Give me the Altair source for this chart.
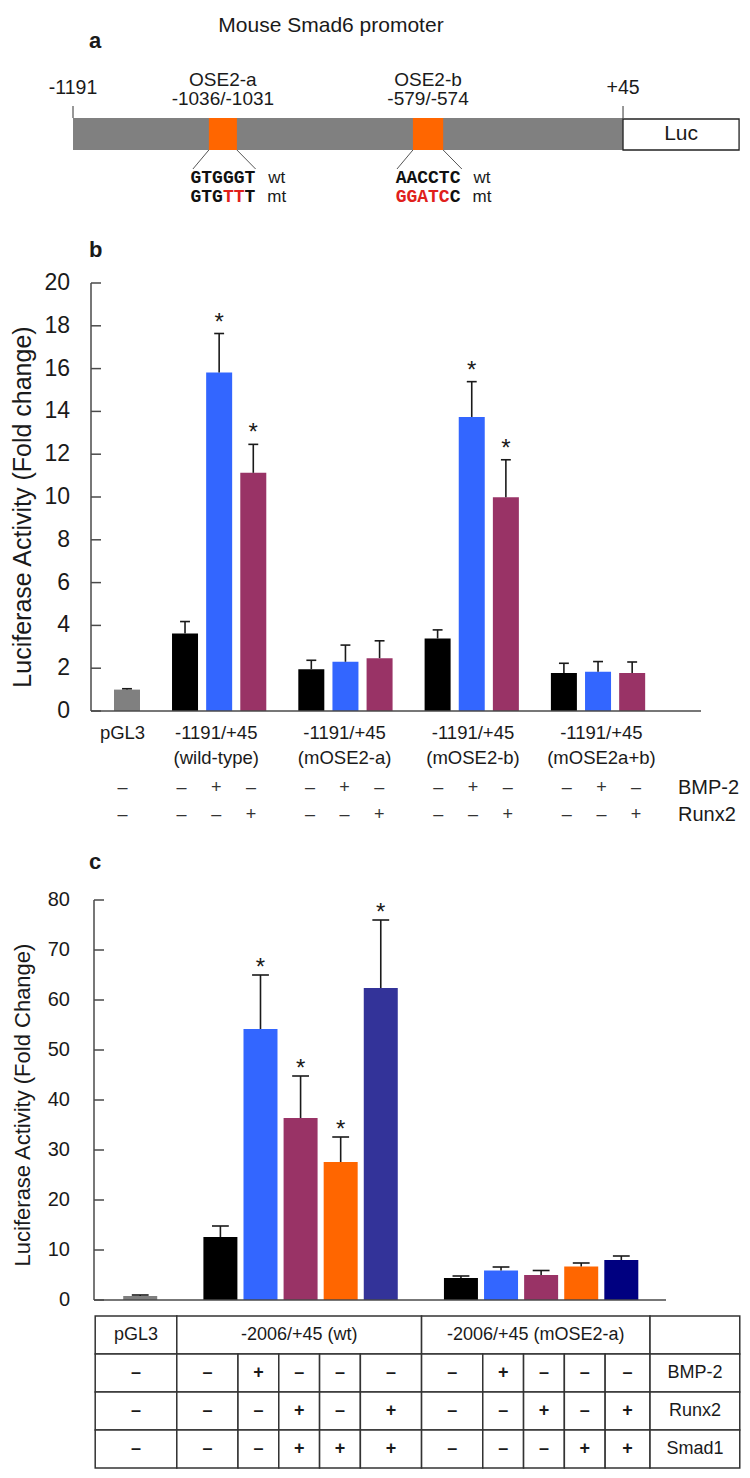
import altair as alt
import pandas as pd

FONT = "Liberation Sans"
MONO = "Liberation Mono"
INK = "#1a1a1a"
AXIS_COL = "#4a4a4a"
MUT_RED = "#e0201b"
OSE_ORANGE = "#ff6600"
PROM_GREY = "#808080"

# ======================= data =======================
# panel a : promoter schematic (drawn positions, not to scale: 0 = -1191, 100 = +45)
prom_end_labels = ["-1191", "+45"]
prom_end_at = [0.0, 100.0]
luc_span = [100.0, 121.1]
ose_names = ["OSE2-a", "OSE2-b"]
ose_coords = ["-1036/-1031", "-579/-574"]
ose_from = [24.7, 61.8]
ose_to = [29.8, 67.3]
ose_wt = ["GTGGGT", "AACCTC"]
ose_mt = ["GTGTTT", "GGATCC"]

# panel b
b_constructs = ["pGL3", "-1191/+45", "-1191/+45", "-1191/+45", "-1191/+45"]
b_variants = ["", "(wild-type)", "(mOSE2-a)", "(mOSE2-b)", "(mOSE2a+b)"]
b_bar_construct = [0, 1, 1, 1, 2, 2, 2, 3, 3, 3, 4, 4, 4]
b_bar_treatment = ["vector", "none", "BMP-2", "Runx2", "none", "BMP-2", "Runx2",
                   "none", "BMP-2", "Runx2", "none", "BMP-2", "Runx2"]
b_mean = [1.0, 3.62, 15.82, 11.13, 1.95, 2.30, 2.47, 3.39, 13.74, 9.99, 1.77, 1.83, 1.77]
b_upper = [1.04, 4.18, 17.64, 12.46, 2.37, 3.08, 3.28, 3.79, 15.39, 11.74, 2.23, 2.31, 2.29]
b_star = [False, False, True, True, False, False, False, False, True, True, False, False, False]
b_ticks = [0, 2, 4, 6, 8, 10, 12, 14, 16, 18, 20]
b_factors = ["BMP-2", "Runx2"]
b_ytitle = "Luciferase Activity (Fold change)"

# panel c
c_constructs = ["pGL3", "-2006/+45 (wt)", "-2006/+45 (mOSE2-a)"]
c_bar_construct = [0, 1, 1, 1, 1, 1, 2, 2, 2, 2, 2]
c_bmp = ["–", "–", "+", "–", "–", "–", "–", "+", "–", "–", "–"]
c_runx = ["–", "–", "–", "+", "–", "+", "–", "–", "+", "–", "+"]
c_smad = ["–", "–", "–", "+", "+", "+", "–", "–", "–", "+", "+"]
c_mean = [0.8, 12.6, 54.2, 36.4, 27.6, 62.4, 4.4, 5.9, 5.0, 6.7, 8.0]
c_upper = [1.0, 14.8, 65.0, 44.8, 32.6, 76.0, 4.8, 6.6, 5.9, 7.4, 8.8]
c_star = [False, False, True, True, True, True, False, False, False, False, False]
c_ticks = [0, 10, 20, 30, 40, 50, 60, 70, 80]
c_factors = ["BMP-2", "Runx2", "Smad1"]
c_ytitle = "Luciferase Activity (Fold Change)"

# ======================= styles / layout =======================
B_COLOURS = {"vector": "#808080", "none": "#000000", "BMP-2": "#3366ff", "Runx2": "#993366"}
C_COLOURS = ["#7f7f7f", "#000000", "#3366ff", "#993366", "#ff6600", "#333399",
             "#000000", "#3366ff", "#993366", "#ff6600", "#000080"]

A_W, A_H, A_X = 650, 273, [3.27, 121.45]
B_W, B_H, B_X = 610, 428, [-0.908, 16.67]
B_FIRST, B_STEP, B_CAP = 1.7, 3.7, 0.145
L_H = 189
C_W, C_H, C_X = 575, 400, [-1.103, 12.99]
C_FIRST, C_STEP, C_CAP = 2.0, 6.0, 0.21
T_W, T_H, T_X = 650, 168, [-1.103, 14.83]
T_LAST_PAD, T_LABEL_W = 0.6, 2.2
CHAR_U = 1.964   # one monospace character in schematic units
FAN_L, FAN_R = 2.9, 3.4


def lin(domain):
    return alt.Scale(domain=domain, nice=False, zero=False)


def positions(constructs, first, step):
    out, seen = [], {}
    for g in constructs:
        k = seen.get(g, 0)
        seen[g] = k + 1
        out.append(0.0 if g == 0 else first + (g - 1) * step + k)
    return out


ONE = pd.DataFrame({"k": [0]})


def frame_axes(width, height, yscale, ticks, title, label_size, title_size, title_y, x0=0):
    """Hand-drawn axes: domain lines, inward ticks, tick labels and the rotated title."""
    tdf = pd.DataFrame({"v": ticks})
    return [
        alt.Chart(ONE).mark_rule(color=AXIS_COL, strokeWidth=1.5).encode(
            x=alt.value(x0), y=alt.value(0), y2=alt.value(height)),
        alt.Chart(ONE).mark_rule(color=AXIS_COL, strokeWidth=1.5).encode(
            x=alt.value(x0), x2=alt.value(width), y=alt.value(height)),
        alt.Chart(tdf).mark_rule(color=AXIS_COL, strokeWidth=1.5).encode(
            y=alt.Y("v:Q", scale=yscale, axis=None), x=alt.value(x0), x2=alt.value(x0 + 10)),
        alt.Chart(tdf).mark_text(align="right", baseline="middle", fontSize=label_size,
                                 color=INK).encode(
            y=alt.Y("v:Q", scale=yscale, axis=None), x=alt.value(-21), text="v:Q"),
        alt.Chart(pd.DataFrame({"t": [title]})).mark_text(
            angle=270, align="center", baseline="middle", fontSize=title_size,
            color=INK).encode(x=alt.value(-68), y=alt.value(title_y), text="t:N"),
    ]


# ======================= panel a =======================
AXS = lin(A_X)


def ax(f):
    return alt.X(f, scale=AXS, axis=None)


prom_df = pd.DataFrame({"s": [prom_end_at[0]], "e": [prom_end_at[1]]})
luc_df = pd.DataFrame({"s": [luc_span[0]], "e": [luc_span[1]], "t": ["Luc"]})
luc_df["m"] = (luc_df["s"] + luc_df["e"]) / 2
ends_df = pd.DataFrame({"at": prom_end_at, "label": prom_end_labels})
ose_df = pd.DataFrame({"l": ose_from, "r": ose_to, "name": ose_names, "coord": ose_coords})
ose_df["c"] = (ose_df["l"] + ose_df["r"]) / 2
fan_df = pd.DataFrame({
    "x0": ose_from + ose_to,
    "x1": [v - FAN_L for v in ose_from] + [v + FAN_R for v in ose_to],
})
chars = []
tags = []
for k in range(len(ose_names)):
    c = (ose_from[k] + ose_to[k]) / 2
    for row, seq in (("wt", ose_wt[k]), ("mt", ose_mt[k])):
        for i, ch in enumerate(seq):
            chars.append({"row": row, "ch": ch, "x": c + (i - 2.5) * CHAR_U,
                          "mut": ch != ose_wt[k][i]})
        tags.append({"row": row, "x": c + 9.8, "t": row})
chars_df = pd.DataFrame(chars)
tags_df = pd.DataFrame(tags)

a_layers = [
    alt.Chart(prom_df).mark_rect(color=PROM_GREY).encode(
        x=ax("s:Q"), x2="e:Q", y=alt.value(108), y2=alt.value(140)),
    alt.Chart(luc_df).mark_rect(fill="white", stroke="#222222", strokeWidth=1.3).encode(
        x=ax("s:Q"), x2="e:Q", y=alt.value(109), y2=alt.value(140)),
    alt.Chart(luc_df).mark_text(fontSize=21, color=INK).encode(
        x=ax("m:Q"), y=alt.value(124), text="t:N"),
    alt.Chart(ends_df).mark_rule(color="#333333", strokeWidth=1).encode(
        x=ax("at:Q"), y=alt.value(96), y2=alt.value(108)),
    alt.Chart(ends_df).mark_text(fontSize=19.5, color=INK).encode(
        x=ax("at:Q"), y=alt.value(78), text="label:N"),
    alt.Chart(ose_df).mark_rect(color=OSE_ORANGE).encode(
        x=ax("l:Q"), x2="r:Q", y=alt.value(108), y2=alt.value(140)),
    alt.Chart(ose_df).mark_text(fontSize=19, color=INK).encode(
        x=ax("c:Q"), y=alt.value(70), text="name:N"),
    alt.Chart(ose_df).mark_text(fontSize=19, color=INK).encode(
        x=ax("c:Q"), y=alt.value(89), text="coord:N"),
    alt.Chart(fan_df).mark_rule(color="#555555", strokeWidth=1).encode(
        x=ax("x0:Q"), x2="x1:Q", y=alt.value(140), y2=alt.value(159)),
]
for row, yv in (("wt", 168), ("mt", 187)):
    a_layers.append(
        alt.Chart(chars_df).transform_filter(f"datum.row == '{row}'").mark_text(
            font=MONO, fontWeight="bold", fontSize=18).encode(
            x=ax("x:Q"), y=alt.value(yv), text="ch:N",
            color=alt.condition("datum.mut", alt.value(MUT_RED), alt.value("#111111"))))
    a_layers.append(
        alt.Chart(tags_df).transform_filter(f"datum.row == '{row}'").mark_text(
            fontSize=17, color=INK).encode(x=ax("x:Q"), y=alt.value(yv), text="t:N"))

a_layers.append(
    alt.Chart(pd.DataFrame({"t": ["Mouse Smad6 promoter"]})).mark_text(
        fontSize=21, color=INK).encode(x=alt.value(240), y=alt.value(16), text="t:N"))
for letter, yv in (("a", 38), ("b", 247)):
    a_layers.append(
        alt.Chart(pd.DataFrame({"t": [letter]})).mark_text(
            fontSize=22, fontWeight="bold", align="left", baseline="alphabetic",
            color=INK).encode(x=alt.value(-2), y=alt.value(yv), text="t:N"))

panel_a = alt.layer(*a_layers).properties(width=A_W, height=A_H)

# ======================= panel b =======================
b_df = pd.DataFrame({
    "construct": b_bar_construct, "treatment": b_bar_treatment,
    "mean": b_mean, "upper": b_upper, "star": b_star,
})
b_df["pos"] = positions(b_bar_construct, B_FIRST, B_STEP)
b_df["fill"] = b_df["treatment"].map(B_COLOURS)
b_df["cl"] = b_df["pos"] - B_CAP
b_df["cr"] = b_df["pos"] + B_CAP
b_df["bmp"] = ["+" if t == "BMP-2" else "–" for t in b_bar_treatment]
b_df["runx"] = ["+" if t == "Runx2" else "–" for t in b_bar_treatment]

BXS = lin(B_X)
BYS = alt.Scale(domain=[0, 20], nice=False, zero=True)

panel_b = alt.layer(
    alt.Chart(b_df).mark_bar(size=26, orient="vertical").encode(
        x=alt.X("pos:Q", scale=BXS, axis=None),
        y=alt.Y("mean:Q", scale=BYS, axis=None),
        color=alt.Color("fill:N", scale=None)),
    alt.Chart(b_df).mark_rule(color=INK, strokeWidth=1.6).encode(
        x=alt.X("pos:Q", scale=BXS, axis=None),
        y=alt.Y("mean:Q", scale=BYS, axis=None), y2="upper:Q"),
    alt.Chart(b_df).mark_rule(color=INK, strokeWidth=1.6).encode(
        x=alt.X("cl:Q", scale=BXS, axis=None), x2="cr:Q",
        y=alt.Y("upper:Q", scale=BYS, axis=None)),
    alt.Chart(b_df).transform_filter("datum.star").mark_text(
        text="*", fontSize=24, baseline="alphabetic", dy=-4, color=INK).encode(
        x=alt.X("pos:Q", scale=BXS, axis=None),
        y=alt.Y("upper:Q", scale=BYS, axis=None)),
    *frame_axes(B_W, B_H, BYS, b_ticks, b_ytitle, 23, 25, 224),
).properties(width=B_W, height=B_H)

# ======================= panel b labels =======================
grp = b_df.groupby("construct")["pos"].mean()
bg_df = pd.DataFrame({"pos": [grp[i] for i in range(len(b_constructs))],
                      "l1": b_constructs, "l2": b_variants})
l_layers = [
    alt.Chart(bg_df).mark_text(fontSize=18.5, color=INK).encode(
        x=alt.X("pos:Q", scale=BXS, axis=None), y=alt.value(22), text="l1:N"),
    alt.Chart(bg_df).mark_text(fontSize=18.5, color=INK).encode(
        x=alt.X("pos:Q", scale=BXS, axis=None), y=alt.value(47), text="l2:N"),
    alt.Chart(b_df).mark_text(fontSize=18, color="#333333").encode(
        x=alt.X("pos:Q", scale=BXS, axis=None), y=alt.value(77), text="bmp:N"),
    alt.Chart(b_df).mark_text(fontSize=18, color="#333333").encode(
        x=alt.X("pos:Q", scale=BXS, axis=None), y=alt.value(104), text="runx:N"),
]
for name, yv in zip(b_factors, (77, 104)):
    l_layers.append(
        alt.Chart(pd.DataFrame({"t": [name]})).mark_text(
            fontSize=20, align="left", color=INK).encode(
            x=alt.value(587), y=alt.value(yv), text="t:N"))
l_layers.append(
    alt.Chart(pd.DataFrame({"t": ["c"]})).mark_text(
        fontSize=22, fontWeight="bold", align="left", baseline="alphabetic",
        color=INK).encode(x=alt.value(-2), y=alt.value(158), text="t:N"))
panel_l = alt.layer(*l_layers).properties(width=B_W, height=L_H)

# ======================= panel c =======================
c_df = pd.DataFrame({
    "construct": c_bar_construct, "mean": c_mean, "upper": c_upper, "star": c_star,
    "bmp": c_bmp, "runx": c_runx, "smad": c_smad,
})
c_df["pos"] = positions(c_bar_construct, C_FIRST, C_STEP)
c_df["fill"] = C_COLOURS
c_df["cl"] = c_df["pos"] - C_CAP
c_df["cr"] = c_df["pos"] + C_CAP

CXS = lin(C_X)
CYS = alt.Scale(domain=[0, 80], nice=False, zero=True)

panel_c = alt.layer(
    alt.Chart(c_df).mark_bar(size=34, orient="vertical").encode(
        x=alt.X("pos:Q", scale=CXS, axis=None),
        y=alt.Y("mean:Q", scale=CYS, axis=None),
        color=alt.Color("fill:N", scale=None)),
    alt.Chart(c_df).mark_rule(color=INK, strokeWidth=1.6).encode(
        x=alt.X("pos:Q", scale=CXS, axis=None),
        y=alt.Y("mean:Q", scale=CYS, axis=None), y2="upper:Q"),
    alt.Chart(c_df).mark_rule(color=INK, strokeWidth=1.6).encode(
        x=alt.X("cl:Q", scale=CXS, axis=None), x2="cr:Q",
        y=alt.Y("upper:Q", scale=CYS, axis=None)),
    alt.Chart(c_df).transform_filter("datum.star").mark_text(
        text="*", fontSize=24, baseline="alphabetic", dy=0, color=INK).encode(
        x=alt.X("pos:Q", scale=CXS, axis=None),
        y=alt.Y("upper:Q", scale=CYS, axis=None)),
    *frame_axes(C_W, C_H, CYS, c_ticks, c_ytitle, 20, 22, 205, x0=3),
).properties(width=C_W, height=C_H)

# ======================= panel c table =======================
cpos = list(c_df["pos"])
n = len(cpos)
lefts, rights = [], []
for j, p in enumerate(cpos):
    lefts.append((cpos[j - 1] + p) / 2 if j > 0 else p - 1)
    rights.append((p + cpos[j + 1]) / 2 if j < n - 1 else p + T_LAST_PAD)
lab_l, lab_r = rights[-1], rights[-1] + T_LABEL_W

cells = []
for k, name in enumerate(c_constructs):
    idx = [j for j in range(n) if c_bar_construct[j] == k]
    cells.append({"row": "head", "l": min(lefts[j] for j in idx),
                  "r": max(rights[j] for j in idx), "text": name, "kind": "text"})
cells.append({"row": "head", "l": lab_l, "r": lab_r, "text": "", "kind": "text"})
for factor, signs in zip(c_factors, (c_bmp, c_runx, c_smad)):
    for j in range(n):
        cells.append({"row": factor, "l": lefts[j], "r": rights[j],
                      "text": signs[j], "kind": "sign"})
    cells.append({"row": factor, "l": lab_l, "r": lab_r, "text": factor, "kind": "text"})
cells_df = pd.DataFrame(cells)
cells_df["m"] = (cells_df["l"] + cells_df["r"]) / 2

TXS = lin(T_X)
TYS = alt.Scale(domain=["head"] + c_factors, range=[16, 168], paddingInner=0, paddingOuter=0)

panel_t = alt.layer(
    alt.Chart(cells_df).mark_rect(fill="white", stroke="#333333", strokeWidth=1.5).encode(
        x=alt.X("l:Q", scale=TXS, axis=None), x2="r:Q",
        y=alt.Y("row:N", scale=TYS, axis=None)),
    alt.Chart(cells_df).transform_filter("datum.kind == 'text'").mark_text(
        fontSize=18, color=INK).encode(
        x=alt.X("m:Q", scale=TXS, axis=None),
        y=alt.Y("row:N", scale=TYS, axis=None), text="text:N"),
    alt.Chart(cells_df).transform_filter("datum.kind == 'sign'").mark_text(
        fontSize=18, fontWeight="bold", color=INK).encode(
        x=alt.X("m:Q", scale=TXS, axis=None),
        y=alt.Y("row:N", scale=TYS, axis=None), text="text:N"),
).properties(width=T_W, height=T_H)

chart = alt.vconcat(
    panel_a, panel_b, panel_l, panel_c, panel_t, spacing=0, bounds="flush"
).properties(
    padding={"left": 2, "top": 2, "right": 0, "bottom": 0}
).configure(font=FONT).configure_view(strokeWidth=0, stroke="transparent")

chart.save("out.html", embed_options={"renderer": "svg", "actions": False})
